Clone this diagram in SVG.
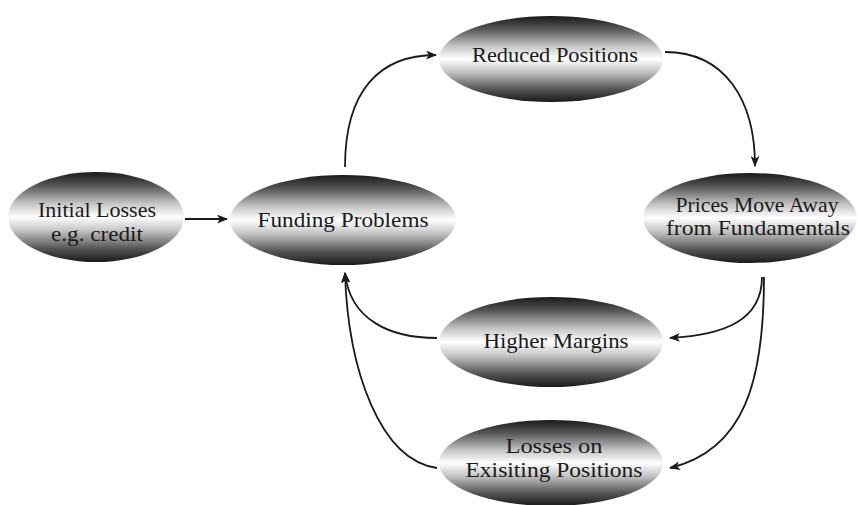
<svg xmlns="http://www.w3.org/2000/svg" width="858" height="505" viewBox="0 0 858 505">
<style>
.node ellipse{fill:url(#g);stroke:none}
.node text{font-family:"Liberation Serif","Times New Roman",serif;font-size:21px;fill:#1a1a1a;text-anchor:middle}
.conn path{fill:none;stroke:#1a1a1a;stroke-width:1.8;marker-end:url(#ah)}
</style>
<defs>
<linearGradient id="g" x1="0" y1="0" x2="0" y2="1">
<stop offset="0" stop-color="#1a1a1a"/>
<stop offset="0.15" stop-color="#555555"/>
<stop offset="0.35" stop-color="#c4c4c4"/>
<stop offset="0.5" stop-color="#ffffff"/>
<stop offset="0.65" stop-color="#c4c4c4"/>
<stop offset="0.85" stop-color="#555555"/>
<stop offset="1" stop-color="#1a1a1a"/>
</linearGradient>
<marker id="ah" viewBox="0 0 10 8" refX="9" refY="4" markerWidth="11" markerHeight="9" markerUnits="userSpaceOnUse" orient="auto">
<path d="M0,0 L10,4 L0,8 L2.5,4 z" fill="#1a1a1a"/>
</marker>
</defs>
<g id="connectors" class="conn">
<path d="M185,219 L227,219"/>
<path d="M345,167 C345,90 380,55 436,55"/>
<path d="M665,52 C725,52 755,100 755,166"/>
<path d="M762,277 C762,320 725,335 670,338"/>
<path d="M764,277 C764,380 745,450 670,468"/>
<path d="M437,338 C390,338 350,320 345,273"/>
<path d="M437,468 C380,460 348,370 345,273"/>
</g>
<g id="initial-losses" class="node">
<ellipse cx="96" cy="217" rx="88" ry="45"/>
<text x="97" y="217" textLength="118" lengthAdjust="spacingAndGlyphs">Initial Losses</text>
<text x="97" y="241" textLength="92" lengthAdjust="spacingAndGlyphs">e.g. credit</text>
</g>
<g id="funding-problems" class="node">
<ellipse cx="343" cy="220" rx="113" ry="45"/>
<text x="343" y="227" textLength="171" lengthAdjust="spacingAndGlyphs">Funding Problems</text>
</g>
<g id="reduced-positions" class="node">
<ellipse cx="551" cy="59" rx="112" ry="43"/>
<text x="555" y="62" textLength="166" lengthAdjust="spacingAndGlyphs">Reduced Positions</text>
</g>
<g id="prices-move-away" class="node">
<ellipse cx="750" cy="218" rx="107" ry="45"/>
<text x="757" y="212" textLength="163" lengthAdjust="spacingAndGlyphs">Prices Move Away</text>
<text x="758" y="235" textLength="184" lengthAdjust="spacingAndGlyphs">from Fundamentals</text>
</g>
<g id="higher-margins" class="node">
<ellipse cx="551" cy="342" rx="112" ry="45"/>
<text x="556" y="348" textLength="145" lengthAdjust="spacingAndGlyphs">Higher Margins</text>
</g>
<g id="losses-existing" class="node">
<ellipse cx="551" cy="463" rx="112" ry="43"/>
<text x="554" y="453" textLength="97" lengthAdjust="spacingAndGlyphs">Losses on</text>
<text x="554" y="477" textLength="177" lengthAdjust="spacingAndGlyphs">Exisiting Positions</text>
</g>
</svg>
